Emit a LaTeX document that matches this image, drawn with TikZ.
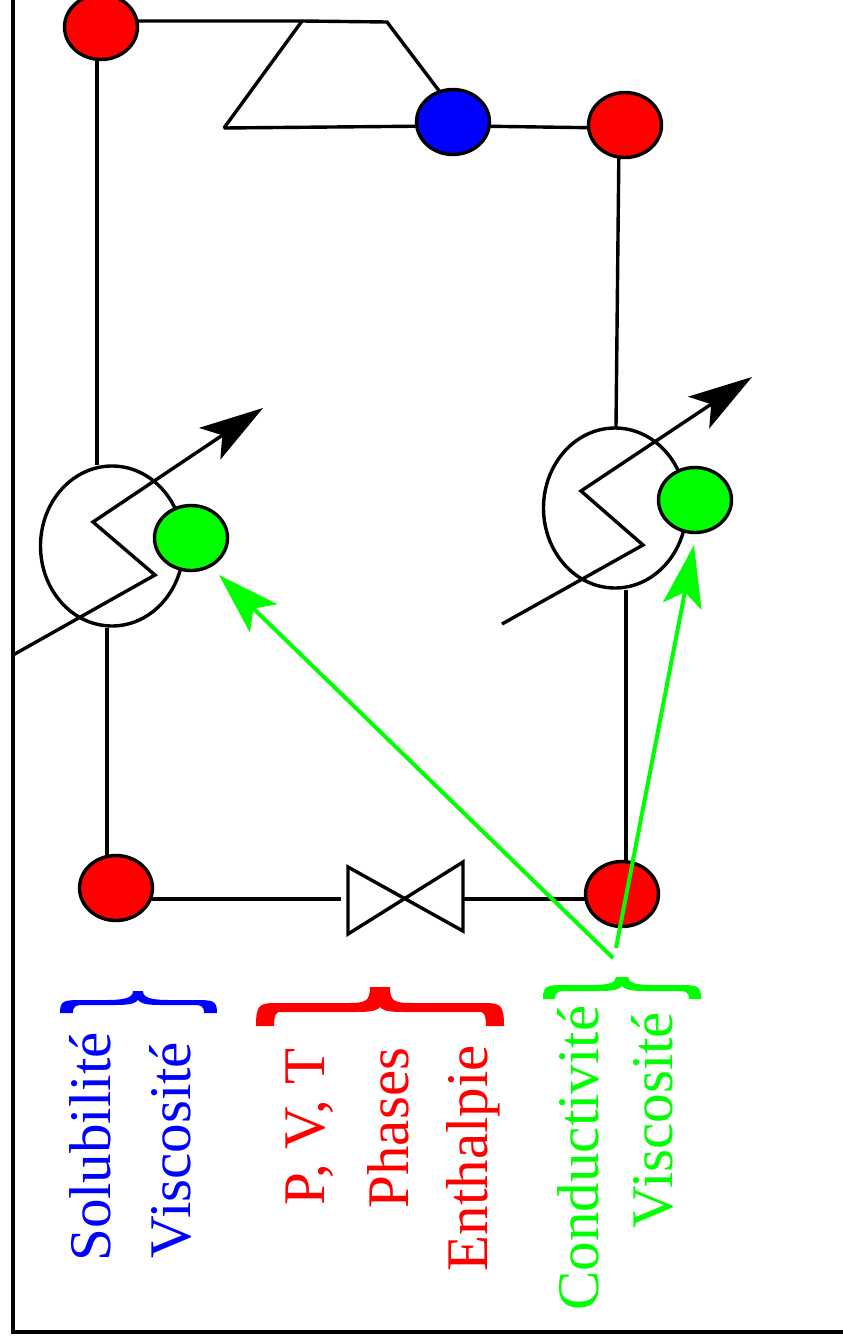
\documentclass[tikz,border=0pt]{standalone}
\usepackage{fontspec}
\setmainfont{Liberation Serif}
\usetikzlibrary{arrows.meta,shapes.geometric}
\definecolor{pgreen}{RGB}{0,255,0}
\definecolor{pred}{RGB}{255,0,0}
\definecolor{pblue}{RGB}{0,0,255}
\tikzset{
  pipe/.style={draw=black,line width=3.4pt},
  port/.style={ellipse,draw=black,line width=3.4pt,minimum width=73pt,minimum height=65pt,inner sep=0pt},
  hx/.style={ellipse,draw=black,line width=3.4pt,minimum width=143pt,minimum height=160pt,inner sep=0pt},
  ctrl/.style={draw=black,line width=3.4pt,-{Stealth[length=64pt,width=38pt,inset=15pt]}},
  probe/.style={draw=pgreen,line width=4pt,-{Stealth[length=62pt,width=39pt,inset=14pt]}},
  lab/.style={rotate=90,anchor=base,font=\fontsize{59}{59}\selectfont,inner sep=0pt}
}
% x0 xc x1 ypeak ytop ybot yend e n
\newcommand{\curlyshape}[9]{%
  (#1,#7) .. controls (#1,#5) and (#1+4,#5) .. (#1+24,#5) -- (#2-32,#5)
  .. controls (#2-14,#5) and (#2-#9,#5-2) .. (#2-#9,#4) -- (#2+#9,#4)
  .. controls (#2+#9,#5-2) and (#2+14,#5) .. (#2+32,#5) -- (#3-24,#5)
  .. controls (#3-4,#5) and (#3,#5) .. (#3,#7) -- (#3-#8,#7)
  .. controls (#3-#8,#6) and (#3-#8-4,#6) .. (#3-24,#6) -- (#2+28,#6)
  .. controls (#2+14,#6) and (#2+4,#6) .. (#2,#6-5)
  .. controls (#2-4,#6) and (#2-14,#6) .. (#2-28,#6) -- (#1+24,#6)
  .. controls (#1+#8+4,#6) and (#1+#8,#6) .. (#1+#8,#7) -- cycle}
\begin{document}
\begin{tikzpicture}[x=1pt,y=-1pt]
\useasboundingbox (0,0) rectangle (843,1344);
\clip (0,0) rectangle (843,1344);
\fill[white] (0,0) rectangle (843,1344);
% frame
\coordinate (fa) at (13,-5); \coordinate (fb) at (13,1332); \coordinate (fc) at (850,1332);
\draw[line width=4pt] (fa) -- (fb) -- (fc);
% junction points
\coordinate (j1) at (302,21); \coordinate (j2) at (387,22); \coordinate (j3) at (224,128);
\coordinate (a1) at (97,40); \coordinate (a2) at (97,465);
\coordinate (b1) at (107,628); \coordinate (b2) at (107,870);
\coordinate (c1) at (619,140); \coordinate (c2) at (616,427);
\coordinate (d1) at (626,590); \coordinate (d2) at (626,880);
\coordinate (e1) at (120,899); \coordinate (e2) at (341,899);
\coordinate (f1) at (463,899); \coordinate (f2) at (600,899);
\coordinate (g1) at (120,21); \coordinate (g2) at (440,92);
\coordinate (h1) at (440,126); \coordinate (h2) at (470,126); \coordinate (h3) at (610,128);
% lines under the nodes
\draw[pipe] (g1) -- (j1) -- (j2) -- (g2);
\draw[pipe,line join=bevel] (j1) -- (j3) -- (h1);
\draw[pipe] (h2) -- (h3);
\draw[pipe] (a1) -- (a2);
\draw[pipe] (b1) -- (b2);
\draw[pipe] (c1) -- (c2);
\draw[pipe] (d1) -- (d2);
\draw[pipe] (e1) -- (e2);
\draw[pipe] (f1) -- (f2);
% exchangers
\node[hx] (hxL) at (112,546) {};
\node[hx] (hxR) at (615,508) {};
% nodes
\node[port,fill=pred] (rTL) at (101,27) {};
\node[port,fill=pblue] (bT) at (453,122) {};
\node[port,fill=pred] (rTR) at (625,125) {};
\node[port,fill=pred] (rBL) at (116,888) {};
\node[port,fill=pred] (rBR) at (622,894) {};
\node[port,fill=pgreen] (gL) at (191,538) {};
\node[port,fill=pgreen] (gR) at (695,500) {};
% valve
\coordinate (v1) at (348,867); \coordinate (v2) at (463,931); \coordinate (v3) at (463,862); \coordinate (v4) at (348,934);
\draw[pipe,miter limit=10] (v1) -- (v2) -- (v3) -- (v4) -- cycle;
% control arrows
\coordinate (k1) at (13,655); \coordinate (k2) at (155,575); \coordinate (k3) at (93,522); \coordinate (k4) at (263,408);
\draw[ctrl] (k1) -- (k2) -- (k3) -- (k4);
\coordinate (m1) at (502,624); \coordinate (m2) at (643,545); \coordinate (m3) at (581,491); \coordinate (m4) at (752,377);
\draw[ctrl] (m1) -- (m2) -- (m3) -- (m4);
% green probes
\coordinate (p0) at (613,958); \coordinate (p1) at (219,575);
\coordinate (q0) at (616,948); \coordinate (q1) at (694,545);
\draw[probe] (p0) -- (p1);
\draw[probe] (q0) -- (q1);
% braces
\fill[pblue] \curlyshape{60}{138}{217}{991}{1000}{1005}{1013}{13}{5};
\fill[pred] \curlyshape{256}{380}{504}{987}{1003}{1012}{1026}{18}{10};
\fill[pgreen] \curlyshape{543}{622}{701}{977}{985}{991}{999}{12}{6};
% labels
\node[lab,text=pblue] (t1) at (110,1147) {Solubilité};
\node[lab,text=pblue] (t2) at (190,1150) {Viscosité};
\node[lab,text=pred] (t3) at (324,1127) {P, V, T};
\node[lab,text=pred] (t4) at (408,1128) {Phases};
\node[lab,text=pred] (t5) at (487,1158) {Enthalpie};
\node[lab,text=pgreen] (t6) at (598,1158) {Conductivité};
\node[lab,text=pgreen] (t7) at (672,1120) {Viscosité};
\end{tikzpicture}
\end{document}
